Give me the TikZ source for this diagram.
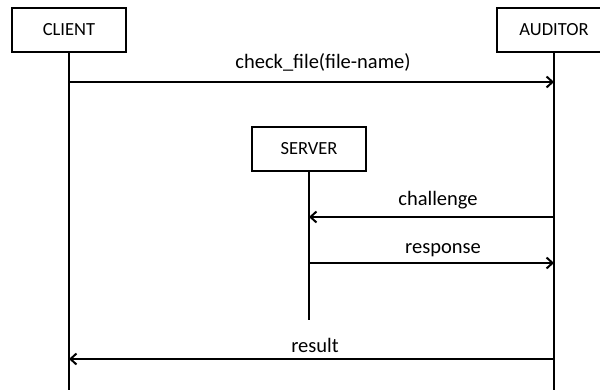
\documentclass[tikz,border=0pt]{standalone}
\usepackage{fontspec}
\setmainfont{Carlito}
\usetikzlibrary{arrows.meta}
\begin{document}
\begin{tikzpicture}[x=1pt,y=1pt,
  actor/.style={draw, line width=2.2pt, minimum width=114pt, minimum height=44pt, inner sep=0pt, font=\fontsize{18.5}{22}\selectfont},
  life/.style={line width=2.8pt},
  msg/.style={line width=2.2pt, -{Straight Barb[length=6pt,width=11pt,line width=2pt]}},
  lbl/.style={anchor=base, inner sep=0pt, font=\fontsize{20.5}{24}\selectfont}]
\clip (0,0) rectangle (600,-390);
% actors
\node[actor] (client) at (69,-30) {CLIENT};
\node[actor] (auditor) at (554,-30) {AUDITOR};
\node[actor] (server) at (309,-149) {SERVER};
% lifeline ends
\coordinate (clientEnd) at (69,-395);
\coordinate (auditorEnd) at (554,-395);
\coordinate (serverEnd) at (309,-320);
\draw[life] (client.south) -- (clientEnd);
\draw[life] (auditor.south) -- (auditorEnd);
\draw[life] (server.south) -- (serverEnd);
% message points
\coordinate (c1) at (69,-82);
\coordinate (a1) at (554,-82);
\coordinate (a2) at (554,-217);
\coordinate (s2) at (309,-217);
\coordinate (s3) at (309,-263);
\coordinate (a3) at (554,-263);
\coordinate (a4) at (554,-359);
\coordinate (c4) at (69,-359);
\draw[msg] (c1) -- (a1);
\draw[msg] (a2) -- (s2);
\draw[msg] (s3) -- (a3);
\draw[msg] (a4) -- (c4);
% labels
\node[lbl] (l1) at (323,-69) {check\_file(file-name)};
\node[lbl] (l2) at (438,-206) {challenge};
\node[lbl] (l3) at (443,-254) {response};
\node[lbl] (l4) at (315,-352) {result};
\end{tikzpicture}
\end{document}
